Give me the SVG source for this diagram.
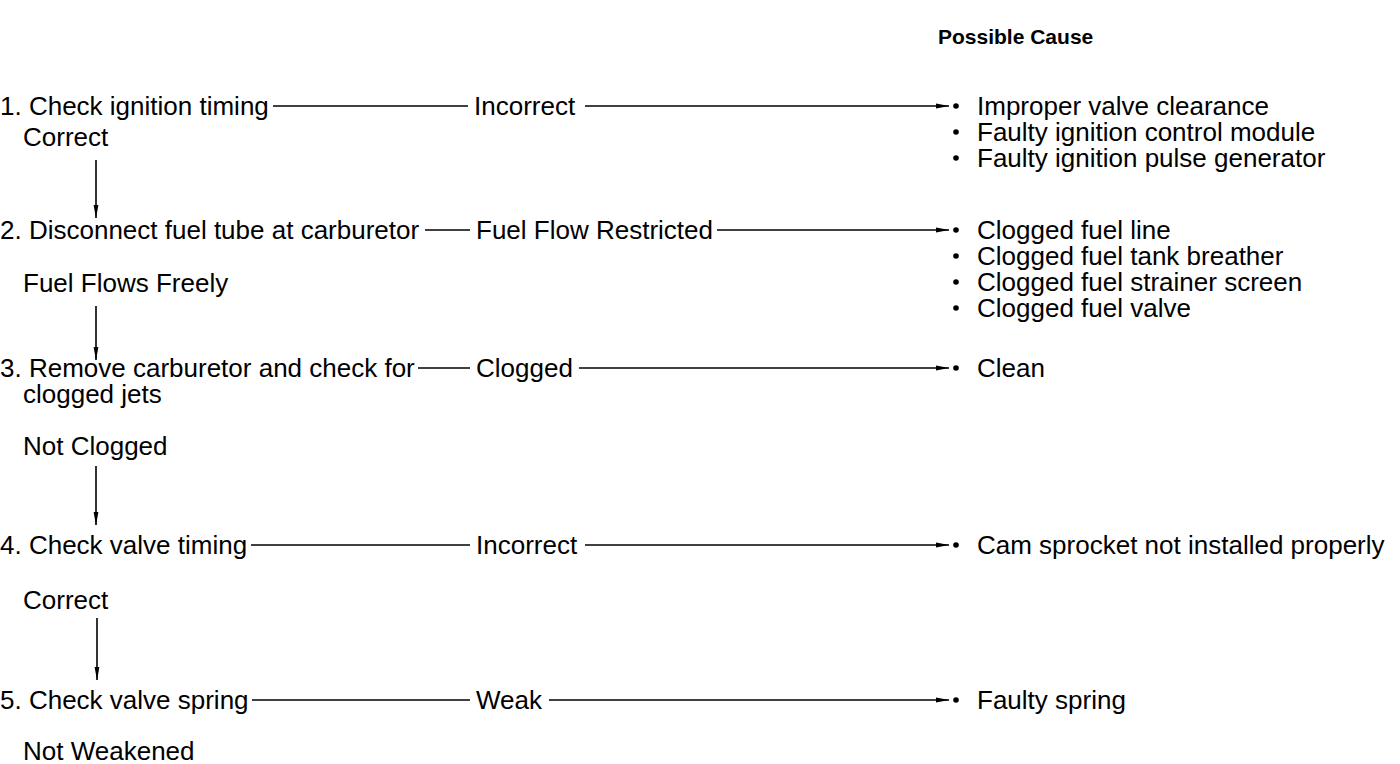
<svg xmlns="http://www.w3.org/2000/svg" width="1400" height="764" viewBox="0 0 1400 764">
<style>
.t{font-family:"Liberation Sans",Arial,sans-serif;font-size:26px;fill:#000}
.h{font-family:"Liberation Sans",Arial,sans-serif;font-size:21px;font-weight:bold;fill:#000}
.c{stroke:#000;stroke-width:1.6;fill:none}
.b{fill:#000}
</style>
<defs>
<marker id="ah" viewBox="0 0 13 6" refX="13" refY="3" markerWidth="13" markerHeight="6" markerUnits="userSpaceOnUse" orient="auto">
<path d="M0,0.6 L13,3 L0,5.4 z" fill="#000"/>
</marker>
</defs>
<rect width="1400" height="764" fill="#fff"/>
<g id="header"><text class="h" x="938" y="44">Possible Cause</text></g>
<g id="step1"><text class="t" x="0" y="115">1. Check ignition timing</text></g>
<g id="res1"><text class="t" x="474" y="115">Incorrect</text></g>
<g id="cause1">
<circle class="b" cx="956" cy="106" r="2.8"/><text class="t" x="977" y="115">Improper valve clearance</text>
<circle class="b" cx="956" cy="132" r="2.8"/><text class="t" x="977" y="141">Faulty ignition control module</text>
<circle class="b" cx="956" cy="158" r="2.8"/><text class="t" x="977" y="167">Faulty ignition pulse generator</text>
</g>
<g id="ok1"><text class="t" x="23" y="146">Correct</text></g>
<g id="step2"><text class="t" x="0" y="239">2. Disconnect fuel tube at carburetor</text></g>
<g id="res2"><text class="t" x="476" y="239">Fuel Flow Restricted</text></g>
<g id="cause2">
<circle class="b" cx="956" cy="230" r="2.8"/><text class="t" x="977" y="239">Clogged fuel line</text>
<circle class="b" cx="956" cy="256" r="2.8"/><text class="t" x="977" y="265">Clogged fuel tank breather</text>
<circle class="b" cx="956" cy="282" r="2.8"/><text class="t" x="977" y="291">Clogged fuel strainer screen</text>
<circle class="b" cx="956" cy="308" r="2.8"/><text class="t" x="977" y="317">Clogged fuel valve</text>
</g>
<g id="ok2"><text class="t" x="23" y="292">Fuel Flows Freely</text></g>
<g id="step3"><text class="t" x="0" y="377">3. Remove carburetor and check for</text><text class="t" x="23" y="403">clogged jets</text></g>
<g id="res3"><text class="t" x="476" y="377">Clogged</text></g>
<g id="cause3"><circle class="b" cx="956" cy="368" r="2.8"/><text class="t" x="977" y="377">Clean</text></g>
<g id="ok3"><text class="t" x="23" y="455">Not Clogged</text></g>
<g id="step4"><text class="t" x="0" y="554">4. Check valve timing</text></g>
<g id="res4"><text class="t" x="476" y="554">Incorrect</text></g>
<g id="cause4"><circle class="b" cx="956" cy="545" r="2.8"/><text class="t" x="977" y="554">Cam sprocket not installed properly</text></g>
<g id="ok4"><text class="t" x="23" y="609">Correct</text></g>
<g id="step5"><text class="t" x="0" y="709">5. Check valve spring</text></g>
<g id="res5"><text class="t" x="476" y="709">Weak</text></g>
<g id="cause5"><circle class="b" cx="956" cy="700" r="2.8"/><text class="t" x="977" y="709">Faulty spring</text></g>
<g id="ok5"><text class="t" x="23" y="760">Not Weakened</text></g>
<g id="connectors">
<line class="c" x1="273" y1="106" x2="468" y2="106"/>
<line class="c" x1="585" y1="106" x2="949" y2="106" marker-end="url(#ah)"/>
<line class="c" x1="96" y1="160" x2="96" y2="218" marker-end="url(#ah)"/>
<line class="c" x1="425" y1="230" x2="470" y2="230"/>
<line class="c" x1="717" y1="230" x2="949" y2="230" marker-end="url(#ah)"/>
<line class="c" x1="96" y1="306" x2="96" y2="360" marker-end="url(#ah)"/>
<line class="c" x1="418" y1="368" x2="470" y2="368"/>
<line class="c" x1="579" y1="368" x2="949" y2="368" marker-end="url(#ah)"/>
<line class="c" x1="96" y1="466" x2="96" y2="525" marker-end="url(#ah)"/>
<line class="c" x1="251" y1="545" x2="470" y2="545"/>
<line class="c" x1="585" y1="545" x2="949" y2="545" marker-end="url(#ah)"/>
<line class="c" x1="97" y1="618" x2="97" y2="680" marker-end="url(#ah)"/>
<line class="c" x1="252" y1="700" x2="470" y2="700"/>
<line class="c" x1="549" y1="700" x2="949" y2="700" marker-end="url(#ah)"/>
</g>
</svg>
